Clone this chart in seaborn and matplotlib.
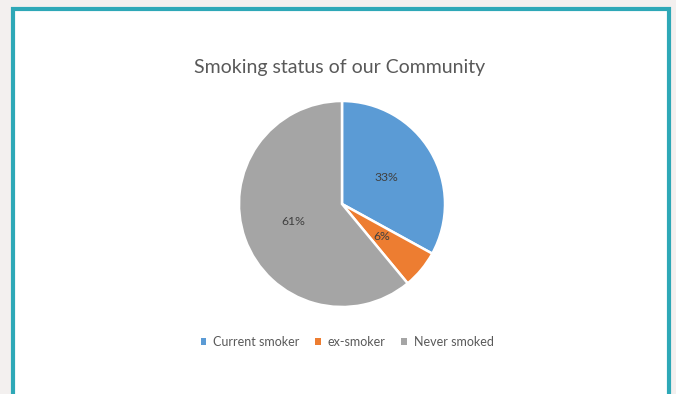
import matplotlib
matplotlib.use("Agg")
import matplotlib.pyplot as plt
import seaborn as sns
from matplotlib.patches import Rectangle, Patch

# Smoking status shares (percent)
categories = ["Current smoker", "ex-smoker", "Never smoked"]
shares = [33, 6, 61]
colors = ["#5B9BD5", "#ED7D31", "#A5A5A5"]
title = "Smoking status of our Community"

sns.set_theme(style="white")
plt.rcParams["font.family"] = ["Lato", "DejaVu Sans"]

W, H = 676, 394
fig = plt.figure(figsize=(W / 100, H / 100), dpi=100)
fig.patch.set_facecolor("#F3F0EF")

# Background layer: white panel with teal frame
bg = fig.add_axes([0, 0, 1, 1], zorder=-1)
bg.set_xlim(0, W)
bg.set_ylim(H, 0)
bg.axis("off")
bg.add_patch(Rectangle((12.5, 8.5), 669 - 12.5, H + 10, facecolor="white",
                       edgecolor="#2EA8B7", linewidth=3))

fig.text(340 / W, 1 - 67 / H, title, ha="center", va="center",
         fontsize=14, color="#595959")

cx, cy, r = 342, 204, 103
ax = fig.add_axes([(cx - r) / W, (H - cy - r) / H, 2 * r / W, 2 * r / H])
ax.set_facecolor("none")
wedges, texts, autotexts = ax.pie(
    shares, colors=colors, startangle=90, counterclock=False,
    autopct=lambda p: f"{p:.0f}%", pctdistance=0.5,
    wedgeprops=dict(edgecolor="white", linewidth=1.8),
    textprops=dict(color="#404040", fontsize=8.8))
ax.set_aspect("equal")
ax.set_xlim(-1, 1)
ax.set_ylim(-1, 1)
ax.axis("off")

handles = [Patch(facecolor=c, edgecolor="none") for c in colors]
fig.legend(handles, categories, loc="center", bbox_to_anchor=(347 / W, 1 - 342 / H),
           ncol=3, frameon=False, fontsize=9, labelcolor="#595959",
           handlelength=0.45, handleheight=0.45, handletextpad=0.55,
           columnspacing=1.25)

fig.savefig("out.png", dpi=100, facecolor=fig.get_facecolor())
